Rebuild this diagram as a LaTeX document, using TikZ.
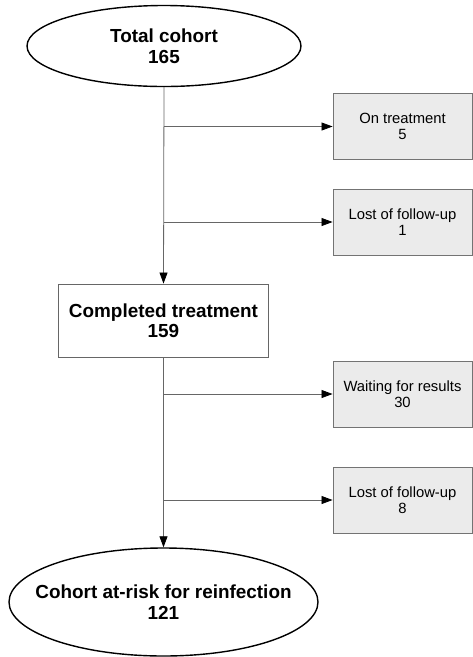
\documentclass[tikz,border=0pt]{standalone}
\usepackage{fontspec}
\setmainfont{Liberation Sans}
\usetikzlibrary{shapes.geometric,arrows.meta}
\begin{document}
\begin{tikzpicture}[x=1pt,y=-1pt,
  bigtext/.style={font=\fontsize{18.9}{20.5}\selectfont\bfseries, align=center},
  smalltext/.style={font=\fontsize{14.8}{16}\selectfont, align=center},
  oval/.style={ellipse, draw=black, line width=1.4pt, fill=white, inner sep=0pt, bigtext},
  mainbox/.style={rectangle, draw=black!60, line width=0.9pt, fill=white, inner sep=0pt, bigtext},
  sidebox/.style={rectangle, draw=black!55, line width=0.9pt, fill=black!8, inner sep=0pt, minimum width=139pt, minimum height=66pt, smalltext},
  conn/.style={draw=black!60, line width=0.8pt, -{Triangle[length=11pt,width=8pt,fill=black,color=black]}}]
\useasboundingbox (0,0) rectangle (473,657);
\node[oval, minimum width=274pt, minimum height=81pt] (total) at (164,46) {Total cohort\\165};
\node[mainbox, minimum width=210pt, minimum height=73pt] (completed) at (163.5,320.5) {Completed treatment\\159};
\node[oval, inner xsep=-22pt, minimum width=309pt, minimum height=108pt] (atrisk) at (163.5,602) {Cohort at-risk for reinfection\\121};
\node[sidebox] (ontreat) at (402.5,126.5) {On treatment\\5};
\node[sidebox] (lost1) at (402.5,222) {Lost of follow-up\\1};
\node[sidebox] (waiting) at (402.5,394) {Waiting for results\\30};
\node[sidebox] (lost2) at (402.5,500) {Lost of follow-up\\8};
\coordinate (b1) at (163.5,126.5);
\coordinate (b2) at (163.5,222);
\coordinate (b3) at (163.5,394);
\coordinate (b4) at (163.5,500);
\draw[conn] (total.south) -- (completed.north);
\draw[conn] (completed.south) -- (atrisk.north);
\draw[conn] (b1) -- (ontreat.west);
\draw[conn] (b2) -- (lost1.west);
\draw[conn] (b3) -- (waiting.west);
\draw[conn] (b4) -- (lost2.west);
\end{tikzpicture}
\end{document}
